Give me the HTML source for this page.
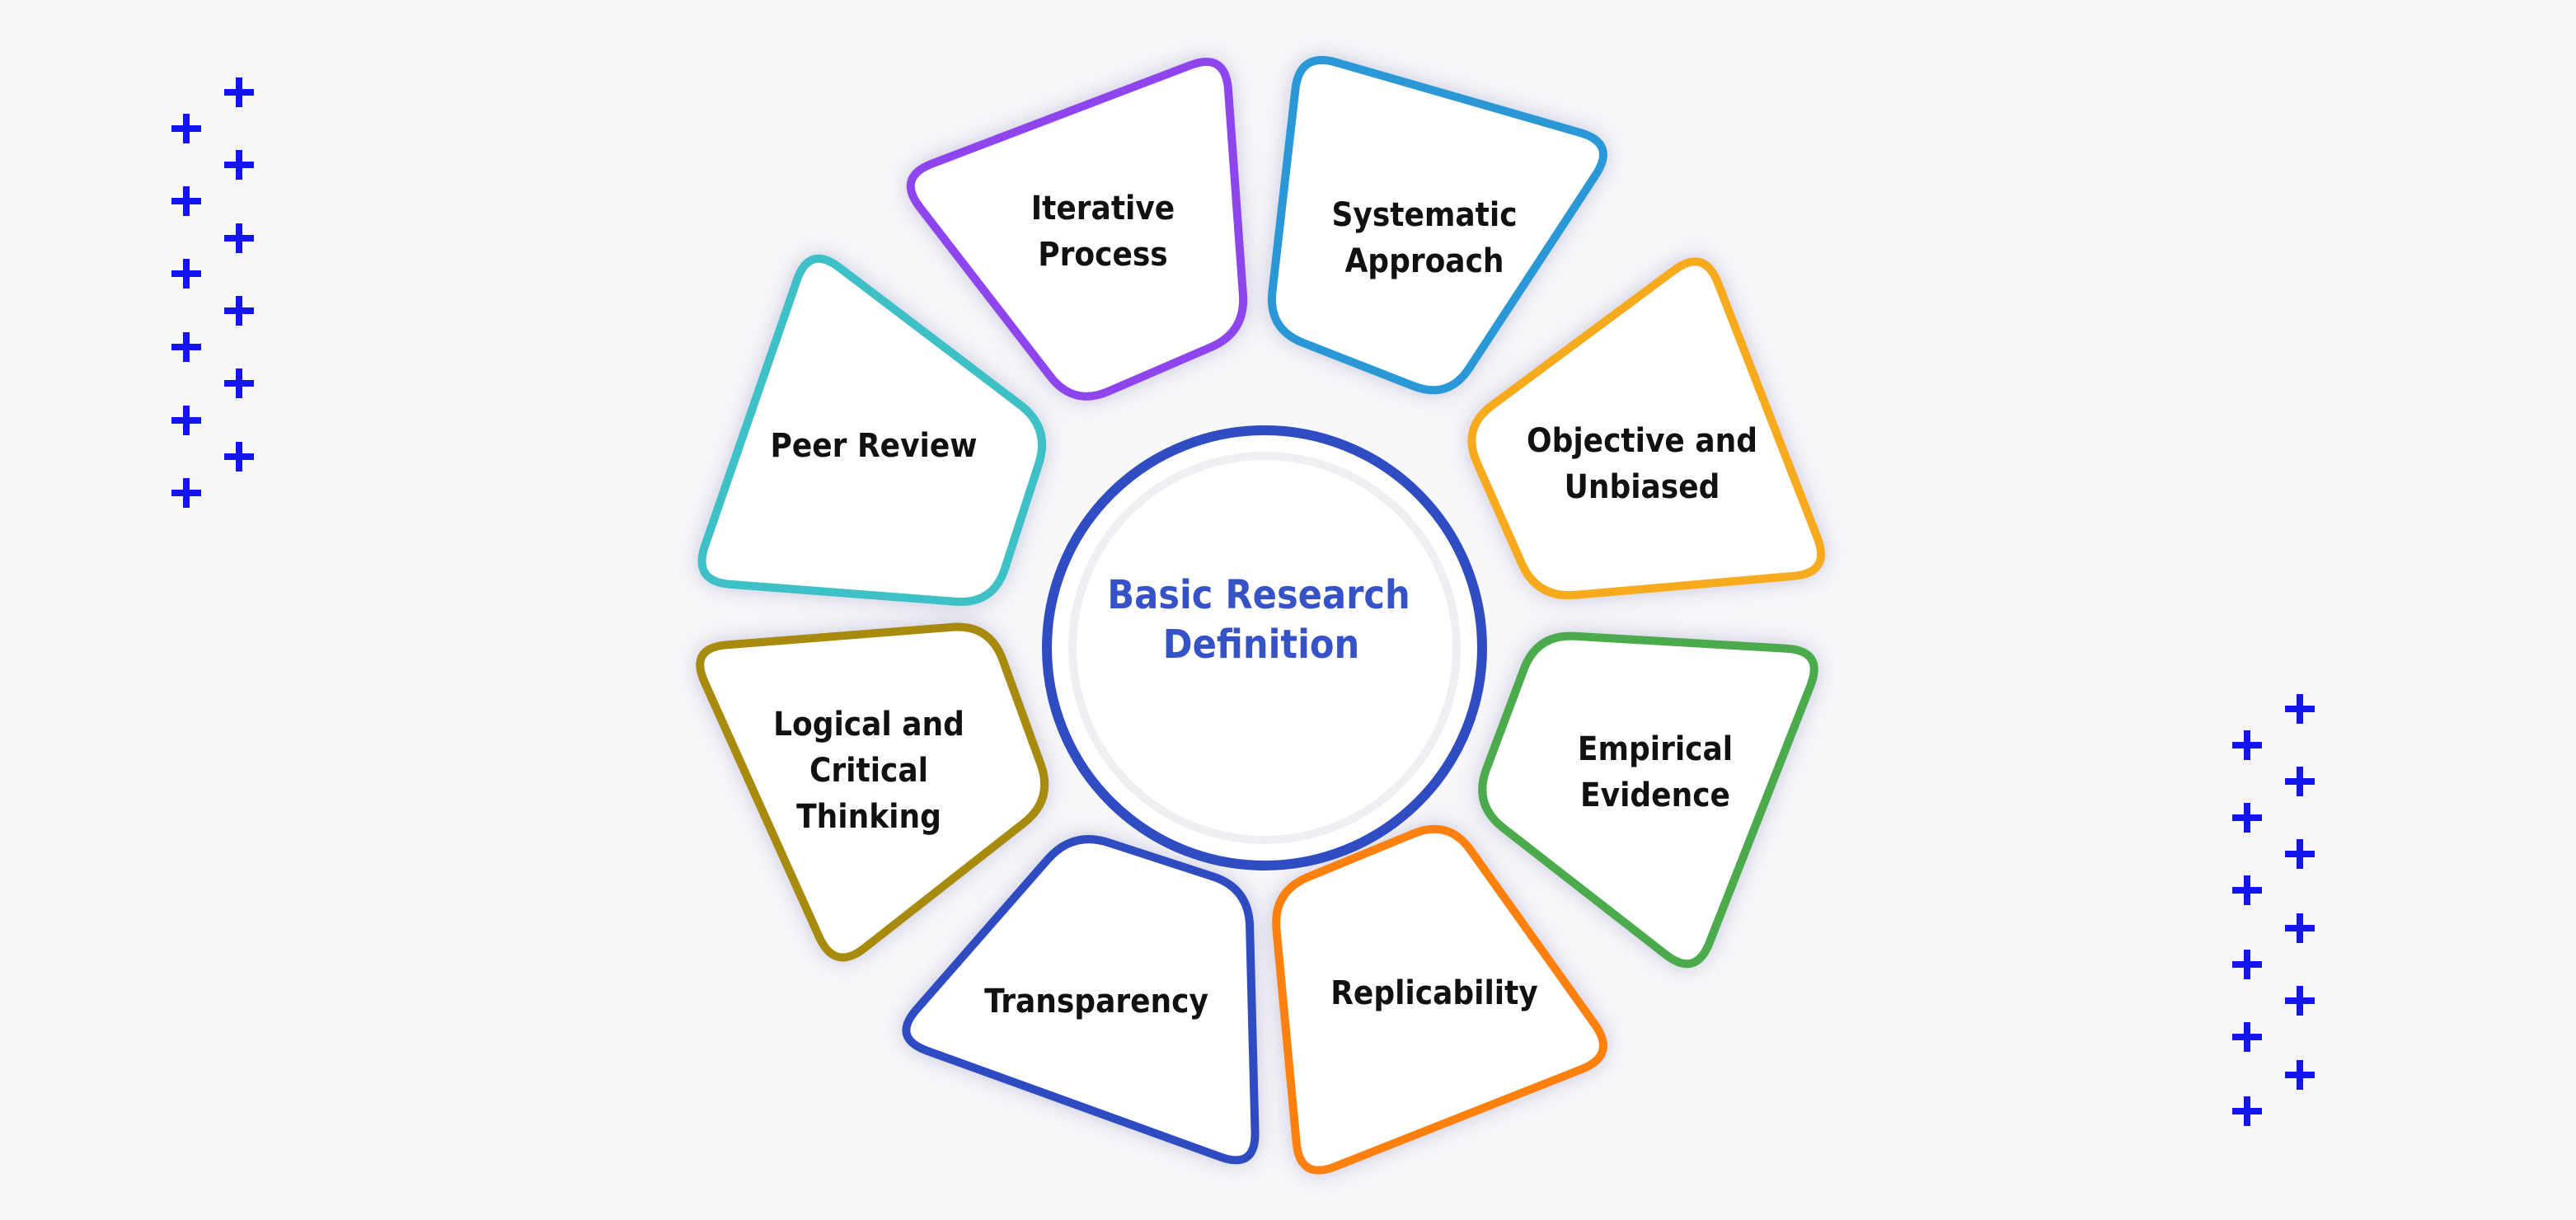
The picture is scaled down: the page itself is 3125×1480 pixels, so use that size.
<!DOCTYPE html>
<html><head><meta charset="utf-8">
<style>
html,body{margin:0;padding:0;background:#f8f8fa;}
svg{display:block}
text{font-family:"Liberation Sans Narrow","DejaVu Sans Condensed","Liberation Sans",sans-serif;font-weight:bold;}
</style></head>
<body>
<svg id="s" width="3125" height="1480" viewBox="0 0 3125 1480" xmlns="http://www.w3.org/2000/svg">
<defs>
<filter id="sh2" x="-30%" y="-30%" width="160%" height="160%">
<feGaussianBlur in="SourceAlpha" stdDeviation="14" result="b"/>
<feFlood flood-color="#6a6aa8" flood-opacity="0.35"/>
<feComposite operator="in" in2="b"/>
<feMerge><feMergeNode/><feMergeNode in="SourceGraphic"/></feMerge>
</filter>
</defs>
<g id="segs"></g>
<circle cx="1534" cy="786" r="264" fill="#ffffff" stroke="#2f4cc2" stroke-width="12"/>
<circle cx="1534" cy="786" r="238" fill="#efeff3"/>
<circle cx="1534" cy="786" r="228" fill="#ffffff"/>
<text font-size="48" fill="#3552c6" text-anchor="middle"><tspan x="1527" y="738">Basic Research</tspan><tspan x="1530" y="798">Definition</tspan></text>
<g font-size="40" fill="#111" text-anchor="middle">
<text><tspan x="1338" y="266">Iterative</tspan><tspan x="1338" y="322">Process</tspan></text>
<text><tspan x="1728" y="274">Systematic</tspan><tspan x="1728" y="330">Approach</tspan></text>
<text><tspan x="1992" y="548">Objective and</tspan><tspan x="1992" y="604">Unbiased</tspan></text>
<text><tspan x="2008" y="922">Empirical</tspan><tspan x="2008" y="978">Evidence</tspan></text>
<text x="1740" y="1218">Replicability</text>
<text x="1330" y="1228">Transparency</text>
<text><tspan x="1054" y="892">Logical and</tspan><tspan x="1054" y="948">Critical</tspan><tspan x="1054" y="1004">Thinking</tspan></text>
<text x="1060" y="554">Peer Review</text>
</g>
<g id="plus" fill="#1414f0"></g>
</svg>
<script>
(function(){
var ns="http://www.w3.org/2000/svg";
var shapes=[
 ["#8e44ee",[[553,110],[742,38],[752,198],[655,240]]],
 ["#2a98d6",[[795,38],[977,90],[880,236],[778,196]]],
 ["#f7aa1a",[[1035,158],[1108,345],[940,358],[897,262]]],
 ["#4caa4c",[[940,392],[1104,400],[1030,588],[904,488]]],
 ["#ff800a",[[880,506],[977,640],[795,712],[781,547]]],
 ["#2f4cc2",[[655,513],[754,545],[760,706],[550,630]]],
 ["#a88a0a",[[426,398],[598,386],[634,485],[510,584]]],
 ["#3cc0c6",[[495,156],[632,262],[600,362],[428,350]]]
];
function tw(a,b,l){var dx=b[0]-a[0],dy=b[1]-a[1],L=Math.hypot(dx,dy);l=Math.min(l,L/2.2);return [a[0]+dx/L*l,a[1]+dy/L*l];}
var segs=document.getElementById("segs");
shapes.forEach(function(s){
 var p=s[1].map(function(q){return [q[0]*1.993,q[1]*1.993];}),n=p.length,d="";
 var mx=0,my=0;p.forEach(function(q){mx+=q[0]/n;my+=q[1]/n;});
 p=p.map(function(q){var dx=q[0]-mx,dy=q[1]-my,L=Math.hypot(dx,dy);return [q[0]+dx/L*15,q[1]+dy/L*15];});
 for(var i=0;i<n;i++){
  var pr=p[(i-1+n)%n],nx=p[(i+1)%n],c=p[i];
  var a=tw(c,pr,46),b=tw(c,nx,46);
  d+=(i?"L":"M")+a[0].toFixed(1)+","+a[1].toFixed(1)+"Q"+c[0].toFixed(1)+","+c[1].toFixed(1)+" "+b[0].toFixed(1)+","+b[1].toFixed(1);
 }
 d+="Z";
 var e=document.createElementNS(ns,"path");
 e.setAttribute("d",d);e.setAttribute("fill","#fff");e.setAttribute("stroke",s[0]);
 e.setAttribute("stroke-width","10");e.setAttribute("stroke-linejoin","round");e.setAttribute("filter","url(#sh2)");
 segs.appendChild(e);
});
var pl=document.getElementById("plus");
function plus(x,y){var s=18,t=4;
 var r1=document.createElementNS(ns,"rect");r1.setAttribute("x",x-s);r1.setAttribute("y",y-t);r1.setAttribute("width",2*s);r1.setAttribute("height",2*t);pl.appendChild(r1);
 var r2=document.createElementNS(ns,"rect");r2.setAttribute("x",x-t);r2.setAttribute("y",y-s);r2.setAttribute("width",2*t);r2.setAttribute("height",2*s);pl.appendChild(r2);}
[156,244,332,421,510,598].forEach(function(y){plus(226,y);});
[112,200,289,377,465,554].forEach(function(y){plus(290,y);});
[904,992,1080,1170,1258,1348].forEach(function(y){plus(2726,y);});
[860,948,1036,1126,1214,1304].forEach(function(y){plus(2790,y);});
})();
</script>
</body></html>
